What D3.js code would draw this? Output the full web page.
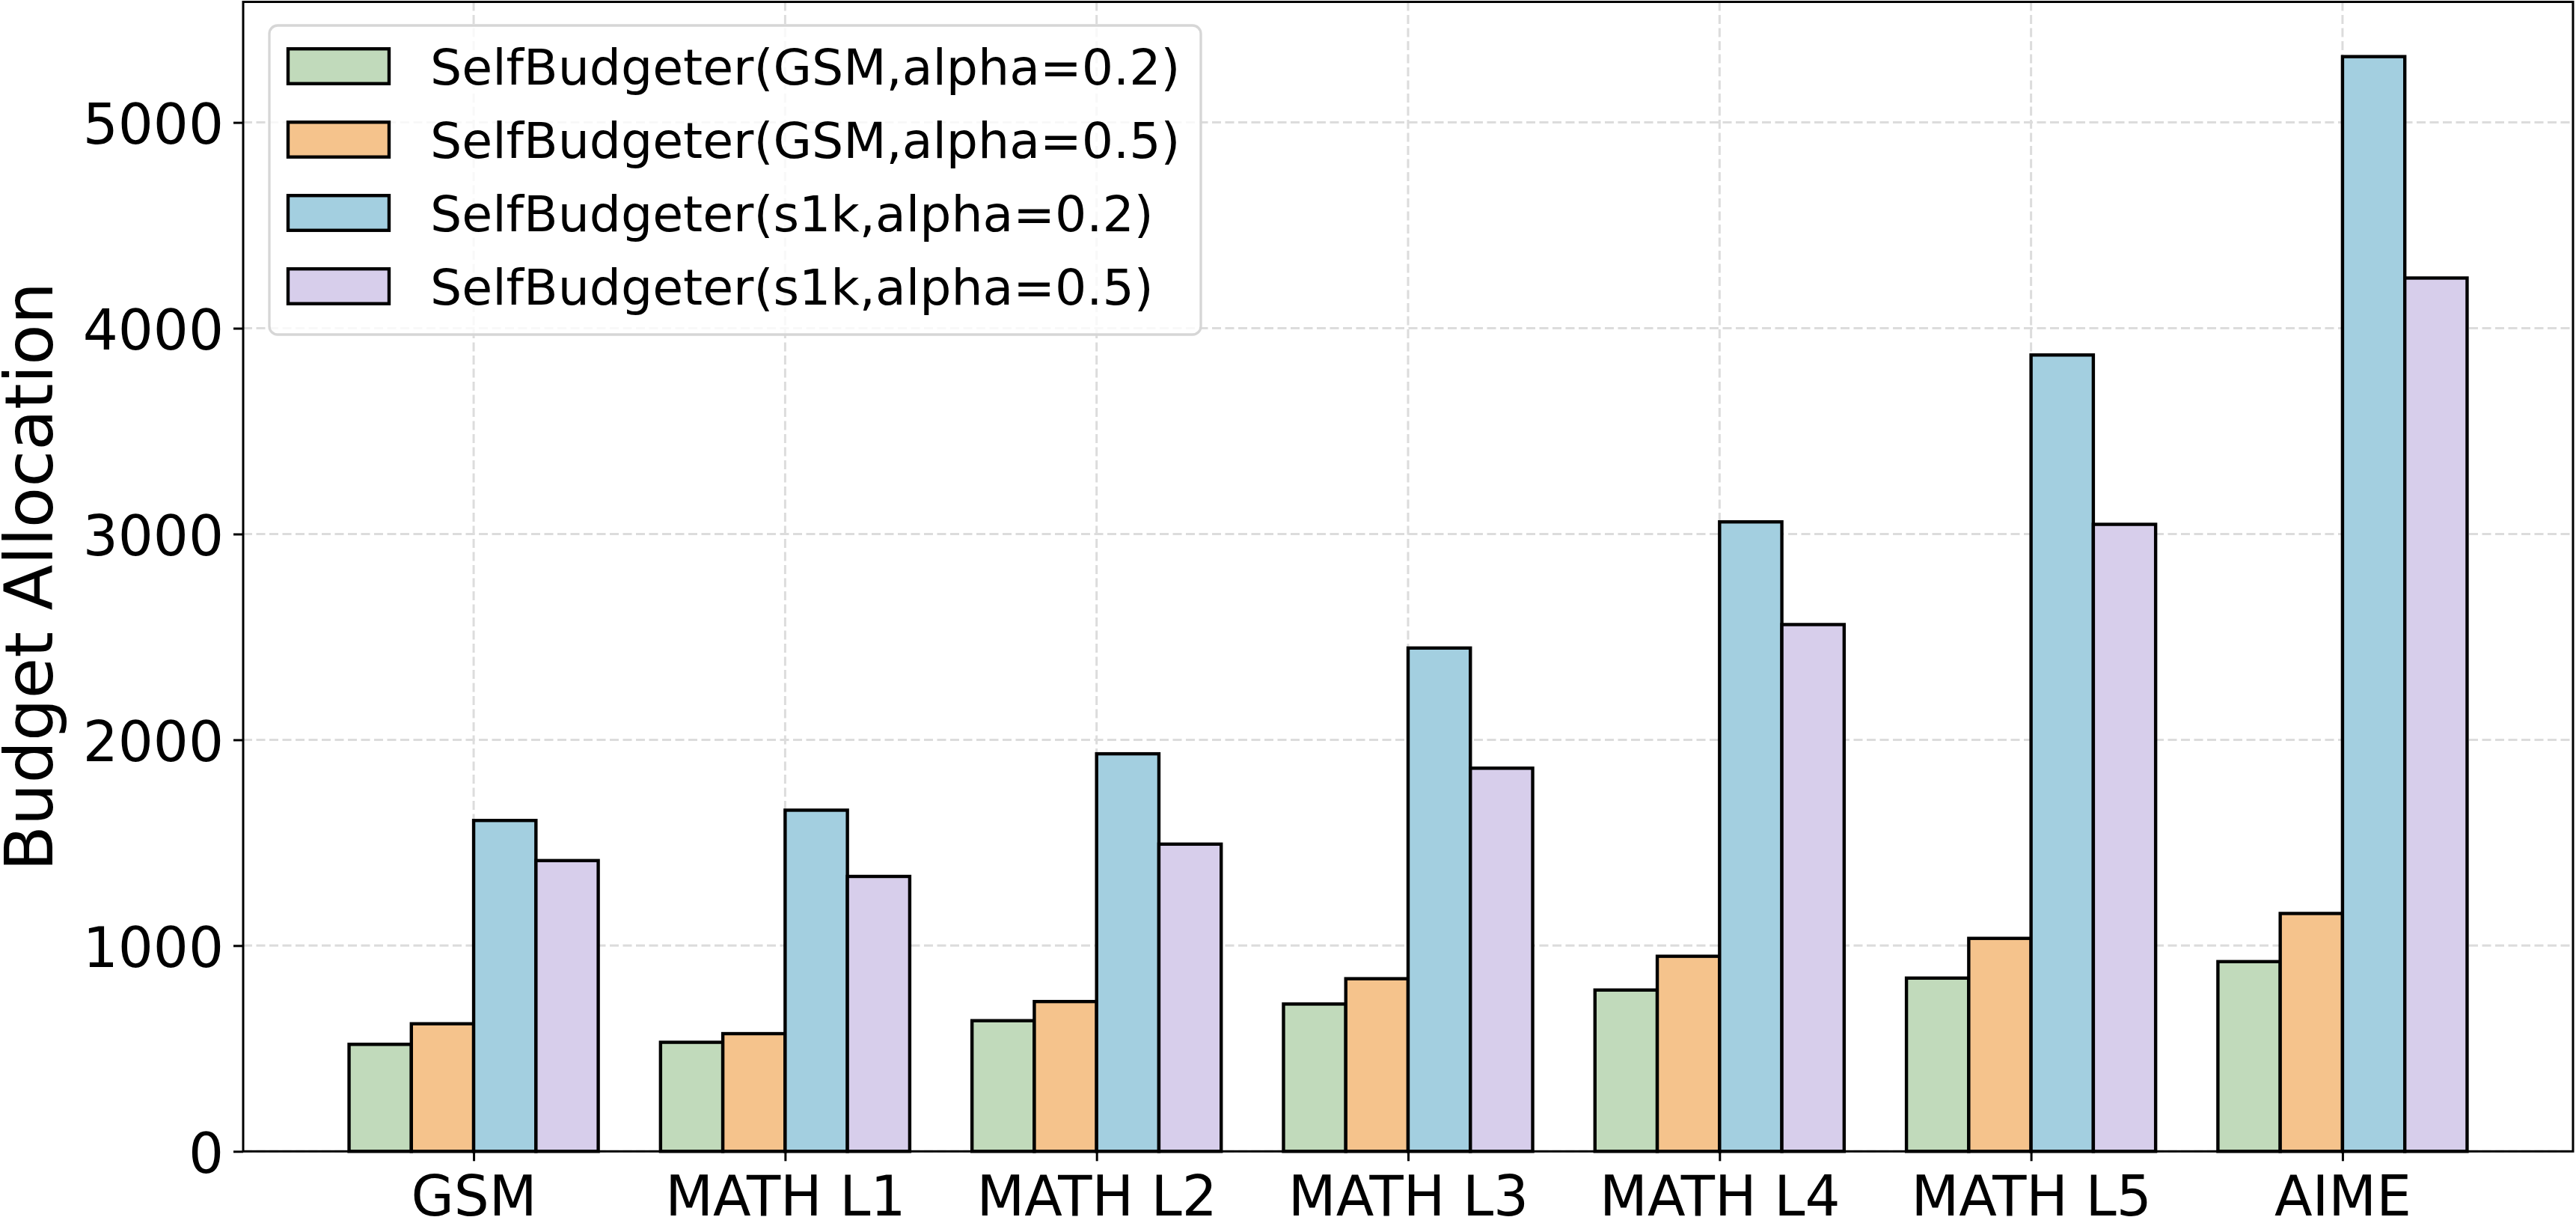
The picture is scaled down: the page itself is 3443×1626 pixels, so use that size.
<!DOCTYPE html>
<html><head><meta charset="utf-8">
<script src="https://cdn.jsdelivr.net/npm/d3@7"></script>
<style>html,body{margin:0;padding:0;background:#fff;} svg{display:block;}</style>
</head><body>
<svg id="chart" width="3443" height="1626"></svg>
<script>
// ---- data ----
const categories = ["GSM", "MATH L1", "MATH L2", "MATH L3", "MATH L4", "MATH L5", "AIME"];
const seriesNames = [
  "SelfBudgeter(GSM,alpha=0.2)",
  "SelfBudgeter(GSM,alpha=0.5)",
  "SelfBudgeter(s1k,alpha=0.2)",
  "SelfBudgeter(s1k,alpha=0.5)"
];
const gsmAlpha02 = [520, 530, 635, 716, 784, 842, 922];
const gsmAlpha05 = [620, 572, 728, 839, 948, 1035, 1156];
const s1kAlpha02 = [1608, 1658, 1932, 2446, 3059, 3870, 5320];
const s1kAlpha05 = [1413, 1336, 1493, 1862, 2560, 3047, 4244];
const yTicks = [0, 1000, 2000, 3000, 4000, 5000];
const yLabel = "Budget Allocation";
const colors = ["#c1dabb", "#f5c38c", "#a3cfe0", "#d7ceeb"];

const series = [gsmAlpha02, gsmAlpha05, s1kAlpha02, s1kAlpha05];

// ---- layout ----
const L = 325, R = 3439, T = 2.5, B = 1538.3;
const FONT = "DejaVu Sans, sans-serif";
const n = categories.length, nS = series.length, barW = 0.2;
const span = (n - 1) + nS * barW;
const xMin = -nS * barW / 2 - 0.05 * span, xMax = (n - 1) + nS * barW / 2 + 0.05 * span;
const x = d3.scaleLinear().domain([xMin, xMax]).range([L, R]);
const maxV = d3.max(series.flat());
const y = d3.scaleLinear().domain([0, maxV * 1.05]).range([B, T]);

const svg = d3.select("#chart");
svg.append("rect").attr("width", 3443).attr("height", 1626).attr("fill", "#fff");

// grid
const grid = svg.append("g");
grid.selectAll("line.h").data(yTicks).join("line")
  .attr("x1", L).attr("x2", R).attr("y1", d => y(d)).attr("y2", d => y(d))
  .attr("stroke", "#dcdcdc").attr("stroke-width", 3).attr("stroke-dasharray", "12,5.5");
grid.selectAll("line.v").data(categories.map((c, i) => i)).join("line")
  .attr("y1", T).attr("y2", B).attr("x1", d => x(d)).attr("x2", d => x(d))
  .attr("stroke", "#dcdcdc").attr("stroke-width", 3).attr("stroke-dasharray", "12,5.5");

// bars
series.forEach((vals, s) => {
  svg.append("g").selectAll("rect").data(vals).join("rect")
    .attr("x", (d, i) => x(i + (s - nS / 2) * barW))
    .attr("width", (d, i) => x(i + (s - nS / 2 + 1) * barW) - x(i + (s - nS / 2) * barW))
    .attr("y", d => y(d))
    .attr("height", d => y(0) - y(d))
    .attr("fill", colors[s]).attr("stroke", "#000").attr("stroke-width", 4.4);
});

// axes
const yAxis = svg.append("g").attr("transform", `translate(${L},0)`)
  .call(d3.axisLeft(y).tickValues(yTicks).tickSize(13).tickPadding(13).tickFormat(d3.format("d")));
yAxis.select(".domain").remove();
yAxis.selectAll("line").attr("stroke", "#000").attr("stroke-width", 3);
yAxis.selectAll("text").attr("font-family", FONT).attr("font-size", 74).attr("fill", "#000").attr("dy", "0.38em");

const xAxis = svg.append("g").attr("transform", `translate(0,${B})`)
  .call(d3.axisBottom(x).tickValues(categories.map((c, i) => i)).tickSize(13).tickPadding(13).tickFormat(i => categories[i]));
xAxis.select(".domain").remove();
xAxis.selectAll("line").attr("stroke", "#000").attr("stroke-width", 3);
xAxis.selectAll("text").attr("font-family", FONT).attr("font-size", 74).attr("fill", "#000").attr("dy", "0.81em");

// spines
svg.append("rect").attr("x", L).attr("y", T).attr("width", R - L).attr("height", B - T)
  .attr("fill", "none").attr("stroke", "#000").attr("stroke-width", 3);

// y label
svg.append("text").attr("transform", `translate(70,${(T + B) / 2}) rotate(-90)`)
  .attr("text-anchor", "middle").attr("font-family", FONT).attr("font-size", 89).attr("fill", "#000")
  .text(yLabel);

// legend
const lg = svg.append("g");
lg.append("rect").attr("x", 360).attr("y", 34).attr("width", 1245).attr("height", 413).attr("rx", 11)
  .attr("fill", "#fff").attr("fill-opacity", 0.8).attr("stroke", "#d6d6d6").attr("stroke-width", 3.3);
seriesNames.forEach((name, i) => {
  const cy = 88.5 + i * 98;
  lg.append("rect").attr("x", 385).attr("y", cy - 23.25).attr("width", 135).attr("height", 46.5)
    .attr("fill", colors[i]).attr("stroke", "#000").attr("stroke-width", 4.4);
  lg.append("text").attr("x", 575).attr("y", cy + 24).attr("font-family", FONT).attr("font-size", 66.5)
    .attr("fill", "#000").text(name);
});
</script>
</body></html>
